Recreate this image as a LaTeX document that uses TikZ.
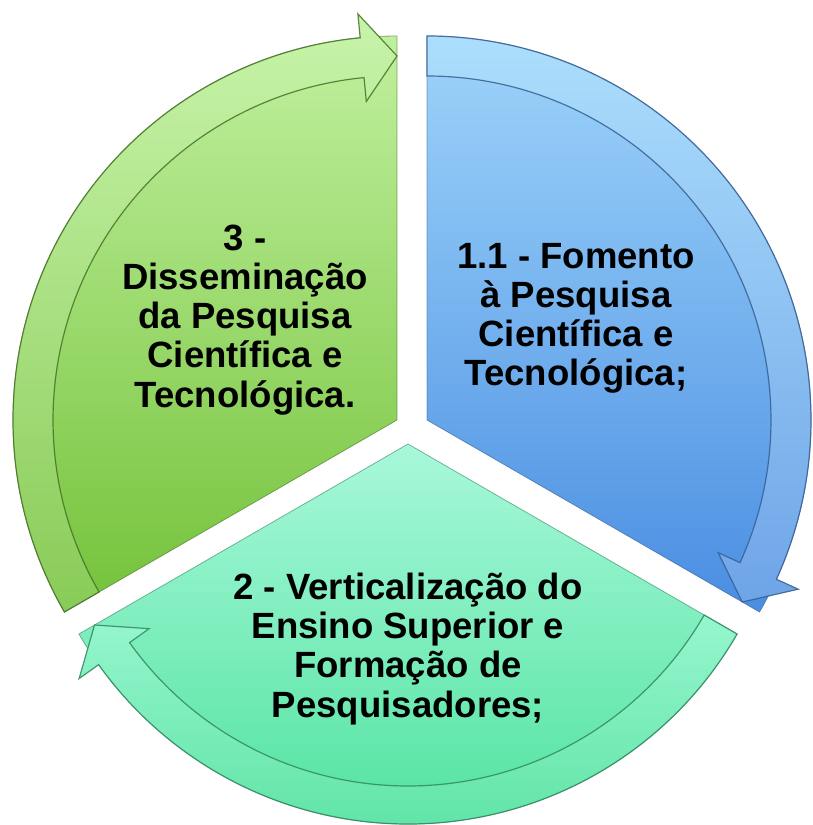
\documentclass[tikz,border=0pt]{standalone}
\usepackage{fontspec}
\setmainfont{Liberation Sans}
\definecolor{bluetop}{RGB}{158,212,250}
\definecolor{bluebot}{RGB}{74,142,226}
\definecolor{blueband}{RGB}{172,222,252}
\definecolor{blueline}{RGB}{55,95,145}
\definecolor{greentop}{RGB}{192,240,158}
\definecolor{greenbot}{RGB}{116,194,58}
\definecolor{greenband}{RGB}{200,244,170}
\definecolor{greenline}{RGB}{70,115,40}
\definecolor{mintop}{RGB}{168,248,218}
\definecolor{minbot}{RGB}{70,224,152}
\definecolor{minband}{RGB}{150,246,206}
\definecolor{minline}{RGB}{50,135,95}
\tikzset{every picture/.style={line width=0.75pt}}
\tikzset{
segtext/.style={font=\bfseries\fontsize{27.4}{29.3}\selectfont, align=center, inner sep=0.75pt},
segedge/.style={line width=0.6pt, draw opacity=0.6},
bandedge/.style={line width=0.9pt, draw opacity=0.85}}

\begin{document}
\begin{tikzpicture}[x=0.75pt,y=0.75pt,yscale=-1,xscale=1]
\useasboundingbox (0,0) rectangle (813,825);

%Shape: Blue segment [1.1]
\begin{scope}[shift={(427,420)}]
\draw [segedge, draw=blueline, top color=bluetop, bottom color=bluebot] (0,0) -- (-90:384) arc[start angle=-90,end angle=30,radius=384] -- cycle;
%Curved arrow band
\draw [bandedge, draw=blueline, top color=blueband, bottom color=bluebot!80!white] (-90:384) arc[start angle=-90,end angle=24.5,radius=384] -- (24.5:408) -- (30:364) -- (24.5:320) -- (24.5:344) arc[start angle=24.5,end angle=-90,radius=344] -- cycle;
\end{scope}

%Shape: Mint segment [2]
\begin{scope}[shift={(408,444)}]
\draw [segedge, draw=minline, top color=mintop, bottom color=minbot] (0,0) -- (30:380) arc[start angle=30,end angle=150,radius=380] -- cycle;
%Curved arrow band
\draw [bandedge, draw=minline, top color=minband, bottom color=minbot!85!white] (30:380) arc[start angle=30,end angle=144.5,radius=380] -- (144.5:404) -- (150:362) -- (144.5:318) -- (144.5:342) arc[start angle=144.5,end angle=30,radius=342] -- cycle;
\end{scope}

%Shape: Green segment [3]
\begin{scope}[shift={(397,420)}]
\draw [segedge, draw=greenline, top color=greentop, bottom color=greenbot] (0,0) -- (-90:384) arc[start angle=-90,end angle=-210,radius=384] -- cycle;
%Curved arrow band
\draw [bandedge, draw=greenline, top color=greenband, bottom color=greenbot!85!white] (-210:384) arc[start angle=-210,end angle=-95.5,radius=384] -- (-95.5:408) -- (-90:364) -- (-95.5:320) -- (-95.5:344) arc[start angle=-95.5,end angle=-210,radius=344] -- cycle;
\end{scope}

% Text Node
\node [segtext] (txtfomento) at (576,318) {1.1 - Fomento\\à Pesquisa\\Científica e\\Tecnológica;};
% Text Node
\node [segtext] (txtensino) at (408,649) {2 - Verticalização do\\Ensino Superior e\\Formação de\\Pesquisadores;};
% Text Node
\node [segtext] (txtdissem) at (245,320) {3 -\\Disseminação\\da Pesquisa\\Científica e\\Tecnológica.};

\end{tikzpicture}
\end{document}
